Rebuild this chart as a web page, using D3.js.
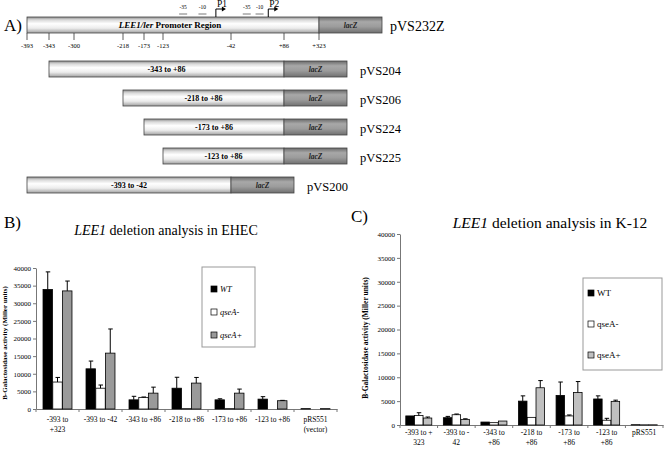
<!DOCTYPE html>
<html>
<head>
<meta charset="utf-8">
<script src="https://cdn.jsdelivr.net/npm/d3@7"></script>
<style>
  body { margin: 0; background: #fff; }
  svg { display: block; }
</style>
</head>
<body>
<svg id="fig" width="664" height="451"></svg>
<script>
// ---- panel A: promoter map ----
const mapTicks      = [-393, -343, -300, -218, -173, -123, -42, 86, 323];
const mapTickLabels = ['-393', '-343', '-300', '-218', '-173', '-123', '-42', '+86', '+323'];
const boxes         = [{label: '-35', pos: -99}, {label: '-10', pos: -76}, {label: '-35', pos: -4}, {label: '-10', pos: 27}];
const promoters     = [{label: 'P1', pos: -60}, {label: 'P2', pos: 48}];
const constructs    = ['pVS204', 'pVS206', 'pVS224', 'pVS225', 'pVS200'];
const constructFrom = [-343, -218, -173, -123, -393];
const constructTo   = [86, 86, 86, 86, -42];

// ---- panels B and C ----
const series = ['WT', 'qseA-', 'qseA+'];
const ehecCategories = ['-393 to\n+323', '-393 to -42', '-343 to +86', '-218 to +86', '-173 to +86', '-123 to +86', 'pRS551\n(vector)'];
const ehecWT        = [33900, 11400, 2600, 5900, 2600, 2800, 100];
const ehecWTErr     = [5000, 2200, 1000, 3100, 300, 700, 0];
const ehecMinus     = [7650, 5900, 3300, 100, 100, 0, 0];
const ehecMinusErr  = [1300, 900, 100, 0, 0, 0, 0];
const ehecPlus      = [33500, 15850, 4500, 7350, 4500, 2350, 100];
const ehecPlusErr   = [2800, 6850, 1700, 1600, 1150, 100, 0];

const k12Categories = ['-393 to +\n323', '-393 to -\n42', '-343 to\n+86', '-218 to\n+86', '-173 to\n+86', '-123 to\n+86', 'pRS551'];
const k12WT         = [1900, 1530, 620, 5000, 6200, 5450, 60];
const k12WTErr      = [0, 270, 0, 1100, 2800, 650, 0];
const k12Minus      = [2000, 2150, 490, 1600, 1900, 1000, 40];
const k12MinusErr   = [570, 150, 0, 0, 200, 400, 0];
const k12Plus       = [1460, 1180, 830, 7800, 6800, 4950, 40];
const k12PlusErr    = [210, 120, 0, 1500, 2300, 250, 0];

const yTicks = d3.range(0, 40001, 5000);
const FONT = '"Liberation Serif", "Times New Roman", serif';

const svg = d3.select('#fig').style('font-family', FONT);
const defs = svg.append('defs');

function gradient(id, stops) {
  const g = defs.append('linearGradient').attr('id', id)
    .attr('x1', 0).attr('y1', 0).attr('x2', 0).attr('y2', 1);
  stops.forEach(s => g.append('stop').attr('offset', s[0]).attr('stop-color', s[1]));
}
gradient('gPromoter', [[0, '#8c8c8c'], [0.18, '#d9d9d9'], [0.42, '#ffffff'], [0.7, '#ececec'], [1, '#a0a0a0']]);
gradient('gLac', [[0, '#6a6a6a'], [0.3, '#a8a8a8'], [0.6, '#9c9c9c'], [1, '#707070']]);

// schematic (not to scale) position of each coordinate
const xMap = d3.scaleLinear().domain(mapTicks).range([27, 49, 74, 123, 144, 163, 231, 284, 319]);
const lacWidth = 63;
const barH = 16;

function drawConstruct(g, from, to, y) {
  const x0 = xMap(from), x1 = xMap(to);
  g.append('rect').attr('x', x0).attr('y', y).attr('width', x1 - x0).attr('height', barH)
    .attr('fill', 'url(#gPromoter)').attr('stroke', '#444').attr('stroke-width', 0.8);
  g.append('rect').attr('x', x1).attr('y', y).attr('width', lacWidth).attr('height', barH)
    .attr('fill', 'url(#gLac)').attr('stroke', '#444').attr('stroke-width', 0.8);
  g.append('text').attr('x', x1 + lacWidth / 2).attr('y', y + barH / 2 + 2.6)
    .attr('text-anchor', 'middle').attr('font-size', 7.5).attr('font-style', 'italic').attr('font-weight', 'bold')
    .attr('fill', '#222').text('lacZ');
  return {x0, x1};
}

// top map
const mapG = svg.append('g');
mapG.append('text').attr('x', 4).attr('y', 31).attr('font-size', 17).text('A)');
const topY = 17;
const t = drawConstruct(mapG, -393, 323, topY);
const lbl = mapG.append('text').attr('x', (t.x0 + t.x1) / 2 - 3).attr('y', topY + barH / 2 + 3.2)
  .attr('text-anchor', 'middle').attr('font-size', 9).attr('font-weight', 'bold');
lbl.append('tspan').attr('font-style', 'italic').text('LEE1/ler');
lbl.append('tspan').text(' Promoter Region');
mapG.append('text').attr('x', 390).attr('y', 31).attr('font-size', 14).text('pVS232Z');

mapG.selectAll('.mt').data(mapTicks).enter().append('line')
  .attr('x1', d => xMap(d)).attr('x2', d => xMap(d))
  .attr('y1', topY + barH).attr('y2', topY + barH + 7)
  .attr('stroke', '#333').attr('stroke-width', 0.8);
mapG.selectAll('.ml').data(mapTicks).enter().append('text')
  .attr('x', d => xMap(d)).attr('y', topY + barH + 15)
  .attr('text-anchor', 'middle').attr('font-size', 6.5)
  .text((d, i) => mapTickLabels[i]);

mapG.selectAll('.bx').data(boxes).enter().append('text')
  .attr('x', d => xMap(d.pos)).attr('y', 9).attr('text-anchor', 'middle').attr('font-size', 5.5)
  .text(d => d.label);
mapG.selectAll('.bu').data(boxes).enter().append('line')
  .attr('x1', d => xMap(d.pos) - 4).attr('x2', d => xMap(d.pos) + 4)
  .attr('y1', 14).attr('y2', 14).attr('stroke', '#555').attr('stroke-width', 0.8);
promoters.forEach(p => {
  const px = xMap(p.pos);
  mapG.append('path').attr('d', `M${px},${topY}V9H${px + 7}`).attr('fill', 'none')
    .attr('stroke', '#000').attr('stroke-width', 1);
  mapG.append('path').attr('d', `M${px + 6},6.5L${px + 10},9L${px + 6},11.5Z`).attr('fill', '#000');
  mapG.append('text').attr('x', px + 1).attr('y', 7).attr('font-size', 9.5).text(p.label);
});

// deletion constructs
const yRow = d3.scalePoint().domain(constructs).range([61, 177]);
constructs.forEach((name, i) => {
  const y = yRow(name);
  const c = drawConstruct(mapG, constructFrom[i], constructTo[i], y);
  const toLabel = constructTo[i] > 0 ? '+' + constructTo[i] : String(constructTo[i]);
  mapG.append('text').attr('x', (c.x0 + c.x1) / 2).attr('y', y + barH / 2 + 3)
    .attr('text-anchor', 'middle').attr('font-size', 8).attr('font-weight', 'bold')
    .text(`${constructFrom[i]} to ${toLabel}`);
  mapG.append('text').attr('x', c.x1 + lacWidth + 13).attr('y', y + barH - 2)
    .attr('font-size', 12.5).text(name);
});

// ---- bar charts ----
function drawChart(cfg) {
  const g = svg.append('g');
  const x = d3.scaleBand().domain(cfg.categories).range([cfg.left, cfg.right]);
  const x1 = d3.scaleBand().domain(series).range([0, x.bandwidth()]).paddingOuter(cfg.pad).paddingInner(0.03);
  const y = d3.scaleLinear().domain([0, 40000]).range([cfg.bottom, cfg.top]);

  const yAxis = g.append('g').attr('transform', `translate(${cfg.left},0)`)
    .call(d3.axisLeft(y).tickValues(yTicks).tickSize(3).tickSizeOuter(0).tickPadding(2).tickFormat(d3.format('d')));
  yAxis.attr('font-family', null).style('font-family', FONT);
  yAxis.selectAll('text').attr('font-size', 7).attr('fill', '#000');
  yAxis.selectAll('line, path').attr('stroke', '#777');

  const xAxis = g.append('g').attr('transform', `translate(0,${cfg.bottom})`)
    .call(d3.axisBottom(x).tickSize(0).tickSizeOuter(0).tickFormat(''));
  xAxis.select('path').attr('stroke', '#777');
  g.selectAll('.xb').data(cfg.categories.concat([null])).enter().append('line')
    .attr('x1', (d, i) => cfg.left + i * x.step()).attr('x2', (d, i) => cfg.left + i * x.step())
    .attr('y1', cfg.bottom).attr('y2', cfg.bottom + 3).attr('stroke', '#777');
  const xl = g.selectAll('.xl').data(cfg.categories).enter().append('text')
    .attr('x', d => x(d) + x.bandwidth() / 2).attr('y', cfg.bottom + cfg.labelDy)
    .attr('text-anchor', 'middle').attr('font-size', cfg.labelSize).attr('fill', '#000');
  xl.each(function(d) {
    d.split('\n').forEach((line, i) => {
      d3.select(this).append('tspan').attr('x', x(d) + x.bandwidth() / 2)
        .attr('dy', i === 0 ? 0 : cfg.labelSize * 1.3).text(line);
    });
  });

  const values = [cfg.wt, cfg.minus, cfg.plus];
  const errs = [cfg.wtErr, cfg.minusErr, cfg.plusErr];
  const fills = ['#000', '#fff', cfg.plusFill];
  series.forEach((s, si) => {
    const bars = cfg.categories.map((c, ci) => ({c, v: values[si][ci], e: errs[si][ci]}));
    g.selectAll('.b' + si).data(bars).enter().append('rect')
      .attr('x', d => x(d.c) + x1(s)).attr('width', x1.bandwidth())
      .attr('y', d => y(d.v)).attr('height', d => y(0) - y(d.v))
      .attr('fill', fills[si]).attr('stroke', '#000').attr('stroke-width', 0.8);
    const eb = bars.filter(d => d.e > 0);
    g.selectAll('.e' + si).data(eb).enter().append('path')
      .attr('d', d => {
        const cx = x(d.c) + x1(s) + x1.bandwidth() / 2;
        return `M${cx},${y(d.v)}V${y(d.v + d.e)}M${cx - 2},${y(d.v + d.e)}H${cx + 2.5}`;
      })
      .attr('fill', 'none').attr('stroke', '#000').attr('stroke-width', 1);
  });

  g.append('text').attr('transform', `translate(${cfg.yLabelX},${cfg.yLabelY}) rotate(-90)`)
    .attr('text-anchor', 'middle').attr('font-size', cfg.yLabelSize).attr('font-weight', 'bold')
    .text('B-Galactosidase activity (Miller units)');

  const title = g.append('text').attr('x', cfg.titleX).attr('y', cfg.titleY)
    .attr('text-anchor', 'middle').attr('font-size', cfg.titleSize);
  title.append('tspan').attr('font-style', 'italic').text('LEE1');
  title.append('tspan').text(' deletion analysis in ' + cfg.strain);
  g.append('text').attr('x', cfg.panelX).attr('y', cfg.panelY).attr('font-size', 17).text(cfg.panel);

  // legend
  const L = cfg.legend;
  g.append('rect').attr('x', L.x).attr('y', L.y).attr('width', L.w).attr('height', L.h)
    .attr('fill', '#fff').attr('stroke', '#999').attr('stroke-width', 1);
  const ly = d3.scalePoint().domain(series).range(L.rows);
  series.forEach((s, si) => {
    g.append('rect').attr('x', L.x + L.sq).attr('y', ly(s) - 3).attr('width', 6).attr('height', 6)
      .attr('fill', fills[si]).attr('stroke', '#000').attr('stroke-width', 0.7);
    g.append('text').attr('x', L.x + L.sq + 9).attr('y', ly(s) + 3)
      .attr('font-size', L.size).attr('font-style', L.italic ? 'italic' : null).text(s);
  });
}

drawChart({
  categories: ehecCategories, wt: ehecWT, wtErr: ehecWTErr, minus: ehecMinus, minusErr: ehecMinusErr,
  plus: ehecPlus, plusErr: ehecPlusErr, plusFill: '#9a9a9a',
  left: 36, right: 337, top: 268, bottom: 409, pad: 0.72,
  labelDy: 13, labelSize: 7.5,
  yLabelX: 7, yLabelY: 343, yLabelSize: 7,
  titleX: 166, titleY: 235, titleSize: 14, strain: 'EHEC',
  panel: 'B)', panelX: 4, panelY: 228,
  legend: {x: 202, y: 267, w: 53, h: 80, rows: [289, 335], sq: 9, size: 8.5, italic: true}
});

drawChart({
  categories: k12Categories, wt: k12WT, wtErr: k12WTErr, minus: k12Minus, minusErr: k12MinusErr,
  plus: k12Plus, plusErr: k12PlusErr, plusFill: '#c0c0c0',
  left: 400, right: 663, top: 234, bottom: 425, pad: 0.66,
  labelDy: 10, labelSize: 7.5,
  yLabelX: 368, yLabelY: 338, yLabelSize: 7.5,
  titleX: 550, titleY: 228, titleSize: 15.5, strain: 'K-12',
  panel: 'C)', panelX: 351, panelY: 222,
  legend: {x: 583, y: 278, w: 79, h: 92, rows: [293, 355], sq: 5, size: 9, italic: false}
});
</script>
</body>
</html>
